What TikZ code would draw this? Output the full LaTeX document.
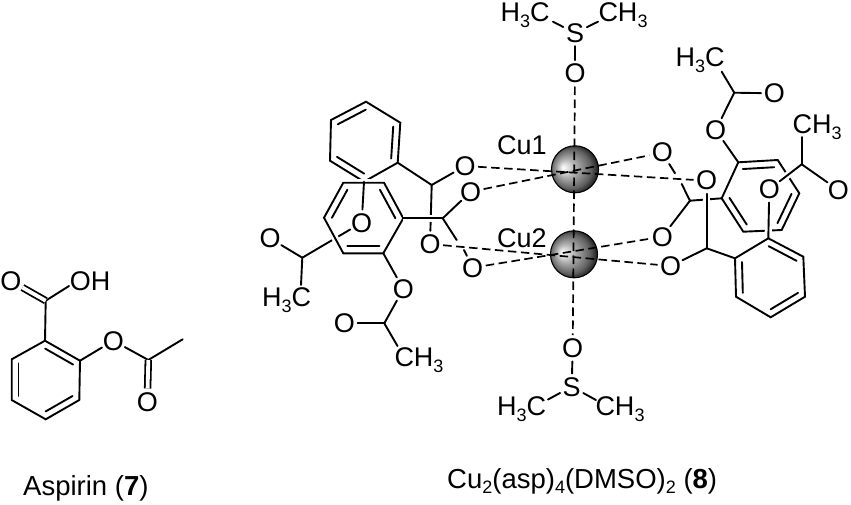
\documentclass[tikz,border=0pt]{standalone}
\usepackage{fontspec}
\setmainfont{Liberation Sans}
\usetikzlibrary{calc,shadings}
\newcommand{\lowsub}[1]{\raisebox{-0.22em}{\fontsize{18}{18}\selectfont #1}}
\newcommand{\capsub}[1]{\raisebox{-0.2em}{\fontsize{18}{20}\selectfont #1}}
\newcommand{\innerbond}[3]{\draw[bond] ($(#1)!.2!(#3)$) -- ($(#2)!.2!(#3)$);}
\pgfdeclareradialshading{cuball}{\pgfqpoint{-13bp}{2bp}}{color(0bp)=(white); color(4bp)=(black!12); color(10bp)=(black!32); color(21bp)=(black!62); color(26bp)=(black!85); color(32bp)=(black)}
\tikzset{
  bond/.style={line width=1.9pt,black,line cap=round,line join=miter},
  halo/.style={bond,preaction={draw,white,line width=7pt,line cap=butt}},
  twobond/.style={line width=1.8pt,double,double distance=3.8pt},
  coordbond/.style={line width=1.7pt,black,dash pattern=on 8.5pt off 4.5pt},
  atom/.style={circle,inner sep=-1pt,minimum size=26pt,font=\fontsize{27}{31}\selectfont},
  lab/.style={inner sep=0pt,font=\fontsize{27}{31}\selectfont},
  captext/.style={inner sep=0pt,font=\fontsize{27.5}{32}\selectfont},
  cuatom/.style={circle,inner sep=0pt,minimum size=47pt,draw=black,line width=1.1pt,shading=cuball}
}
\begin{document}
\begin{tikzpicture}[x=1pt,y=-1pt]
\useasboundingbox (0,0) rectangle (851,504);
% ---------- Aspirin ----------
\coordinate (a1) at (45,340.7);
\coordinate (a2) at (80,360.7);
\coordinate (a3) at (79.3,400);
\coordinate (a4) at (45.7,419.3);
\coordinate (a5) at (11.7,400);
\coordinate (a6) at (11.7,359.3);
\coordinate (acen) at (45.5,380);
\coordinate (ac1) at (45.7,300.7);
\coordinate (ac2) at (148.3,360);
\coordinate (ame) at (182.7,339.3);
\node[atom] (ao1) at (11,281) {O};
\node[lab] (aoh) at (90,281) {OH};
\coordinate (aoht) at (69,286);
\node[atom] (ao2) at (113.3,340.7) {O};
\node[atom] (ao3) at (147.3,401.7) {O};
\draw[bond] (a1)--(a2)--(a3)--(a4)--(a5)--(a6)--cycle;
\innerbond{a1}{a2}{acen}
\innerbond{a3}{a4}{acen}
\innerbond{a5}{a6}{acen}
\draw[bond] (a1)--(ac1);
\draw[bond] (ac1)--(aoht);
\draw[twobond] (ac1)--(ao1);
\draw[bond] (a2)--(ao2);
\draw[bond] (ao2)--(ac2);
\draw[bond] (ac2)--(ame);
\draw[twobond] (ac2)--(ao3);
\node[captext,anchor=base west] (acap) at (23,495) {Aspirin (\textbf{7})};
% ---------- Copper centres ----------
\node[cuatom] (cu1) at (575,169.3) {};
\node[cuatom] (cu2) at (574,254.3) {};
\node[lab,anchor=west] (cu1l) at (497,145) {Cu1};
\node[lab,anchor=west] (cu2l) at (497,237.7) {Cu2};
% ---------- DMSO top ----------
\node[atom] (otop) at (575,73.3) {O};
\node[atom] (stop) at (575,33) {S};
\node[lab] (tme1) at (525,15) {H\lowsub{3}C};
\node[lab] (tme2) at (623,15) {CH\lowsub{3}};
\coordinate (tme1e) at (553,21.7);
\coordinate (tme2e) at (598,21.7);
\draw[bond] (stop)--(otop);
\draw[bond] (stop)--(tme1e);
\draw[bond] (stop)--(tme2e);
% ---------- DMSO bottom ----------
\node[atom] (obot) at (572.7,348.3) {O};
\node[atom] (sbot) at (571.7,386.7) {S};
\node[lab] (bme1) at (521.7,409.3) {H\lowsub{3}C};
\node[lab] (bme2) at (620,409.3) {CH\lowsub{3}};
\coordinate (bme1e) at (548,399.5);
\coordinate (bme2e) at (596,400);
\draw[bond] (sbot)--(obot);
\draw[bond] (sbot)--(bme1e);
\draw[bond] (sbot)--(bme2e);
% ---------- Left aspirinate, rear part ----------
\coordinate (p1) at (366,101.7);
\coordinate (p2) at (400.3,122.7);
\coordinate (p3) at (397.7,162.7);
\coordinate (p4) at (364,181.7);
\coordinate (p5) at (330,160.7);
\coordinate (p6) at (331,120);
\coordinate (pcen) at (365,141.5);
\coordinate (lc1) at (431.7,185);
\node[atom] (lo1) at (465,166) {O};
\node[atom] (lo2) at (430,244) {O};
\node[atom] (lo3) at (470.7,191.7) {O};
\node[atom] (lo4) at (472.7,267.7) {O};
\node[atom] (lo5) at (361.7,222.7) {O};
\node[atom] (lo6) at (270,238.3) {O};
\node[atom] (lo7) at (403.3,289) {O};
\node[atom] (lo8) at (344.3,323.3) {O};
\coordinate (lc2) at (442.7,218.3);
\coordinate (lc3) at (302.3,257.7);
\coordinate (lc4) at (384.3,323.3);
\node[lab] (lme1) at (286.7,300) {H\lowsub{3}C};
\node[lab] (lme2) at (419,360) {CH\lowsub{3}};
\coordinate (lme1e) at (301,285);
\coordinate (lme2e) at (397.5,346);
\draw[bond] (p1)--(p2)--(p3)--(p4)--(p5)--(p6)--cycle;
\innerbond{p1}{p6}{pcen}
\innerbond{p2}{p3}{pcen}
\innerbond{p4}{p5}{pcen}
\draw[bond] (p3)--(lc1);
\draw[bond] (lc1)--(lo1);
\draw[bond] (lc1)--(lo2);
\draw[bond] (lc3)--(lo5);
% ---------- Left aspirinate, front ring ----------
\coordinate (r1) at (343.3,182.7);
\coordinate (r2) at (384,182.7);
\coordinate (r3) at (403.3,218.3);
\coordinate (r4) at (383.3,253.3);
\coordinate (r5) at (343.3,253.3);
\coordinate (r6) at (324,217.7);
\coordinate (rcen) at (363.7,218);
\draw[halo] (r1)--(r2)--(r3)--(r4)--(r5)--(r6)--cycle;
\innerbond{r1}{r6}{rcen}
\innerbond{r2}{r3}{rcen}
\innerbond{r4}{r5}{rcen}
\draw[halo] (r3)--(lc2);
\draw[bond] (p4)--(lo5);
\draw[bond] (lc2)--(lo3);
\coordinate (lg1) at (456.7,240);
\coordinate (lg2) at (464,250);
\draw[bond] (lc2)--(lg1);
\draw[bond] (lg2)--(lo4);
\draw[bond] (r4)--(lo7);
\draw[bond] (lo7)--(lc4);
\draw[bond] (lc4)--(lo8);
\draw[bond] (lc4)--(lme2e);
\draw[bond] (lo6)--(lc3);
\draw[bond] (lc3)--(lme1e);
% ---------- Right aspirinate ----------
\coordinate (b1) at (738.3,162.3);
\coordinate (b2) at (777.7,160);
\coordinate (b3) at (799.3,193.3);
\coordinate (b4) at (781.7,230);
\coordinate (b5) at (743.3,231.7);
\coordinate (b6) at (721.7,198.3);
\coordinate (bcen) at (760.5,196);
\coordinate (rc1) at (690,200.7);
\coordinate (rc2) at (706.7,248.3);
\coordinate (rc3) at (734.3,92.7);
\coordinate (rc4) at (801.7,164.3);
\node[atom] (ro1) at (662.3,152.7) {O};
\node[atom] (ro2) at (706.7,180.7) {O};
\node[atom] (ro3) at (662.3,236.7) {O};
\node[atom] (ro4) at (670.7,266) {O};
\node[atom] (ro5) at (715.7,130) {O};
\node[atom] (ro6) at (774.3,93.3) {O};
\node[atom] (ro7) at (769.3,189.3) {O};
\node[atom] (ro8) at (838.3,190) {O};
\node[lab] (rme1) at (700,60) {H\lowsub{3}C};
\node[lab] (rme2) at (817,126.7) {CH\lowsub{3}};
\coordinate (rme1e) at (721.7,71.7);
\coordinate (rme2e) at (801.7,137);
\draw[bond] (b1)--(b2)--(b3)--(b4)--(b5)--(b6)--cycle;
\innerbond{b1}{b2}{bcen}
\innerbond{b3}{b4}{bcen}
\innerbond{b5}{b6}{bcen}
\draw[bond] (rc1)--(b6);
\coordinate (q1) at (768.3,238.3);
\coordinate (q2) at (803.3,256.7);
\coordinate (q3) at (805,296.7);
\coordinate (q4) at (770.7,317.3);
\coordinate (q5) at (736,296.7);
\coordinate (q6) at (735,258.3);
\coordinate (qcen) at (770,277.5);
\draw[halo] (q1)--(ro7);
\draw[halo] (rc2)--(ro2);
\draw[bond] (q1)--(q2)--(q3)--(q4)--(q5)--(q6)--cycle;
\innerbond{q1}{q2}{qcen}
\innerbond{q3}{q4}{qcen}
\innerbond{q5}{q6}{qcen}
\draw[bond] (rc2)--(q6);
\draw[bond] (ro4)--(rc2);
\coordinate (rg1) at (675,173.3);
\coordinate (rg2) at (681.7,184);
\draw[bond] (ro1)--(rg1);
\draw[bond] (rg2)--(rc1);
\draw[bond] (ro3)--(rc1);
\draw[bond] (b1)--(ro5);
\draw[bond] (ro5)--(rc3);
\draw[bond] (rc3)--(ro6);
\draw[bond] (rc3)--(rme1e);
\draw[halo] (ro7)--(rc4);
\draw[bond] (rc4)--(ro8);
\draw[bond] (rc4)--(rme2e);
% ---------- Coordination bonds ----------
\draw[coordbond] (otop)--(obot);
\draw[coordbond] (lo1)--(ro2);
\draw[coordbond] (lo3)--(ro1);
\draw[coordbond] (lo2)--(ro4);
\draw[coordbond] (lo4)--(ro3);
\node[captext,anchor=base west] (ccap) at (447,488) {Cu\capsub{2}(asp)\capsub{4}(DMSO)\capsub{2} (\textbf{8})};
\end{tikzpicture}
\end{document}
